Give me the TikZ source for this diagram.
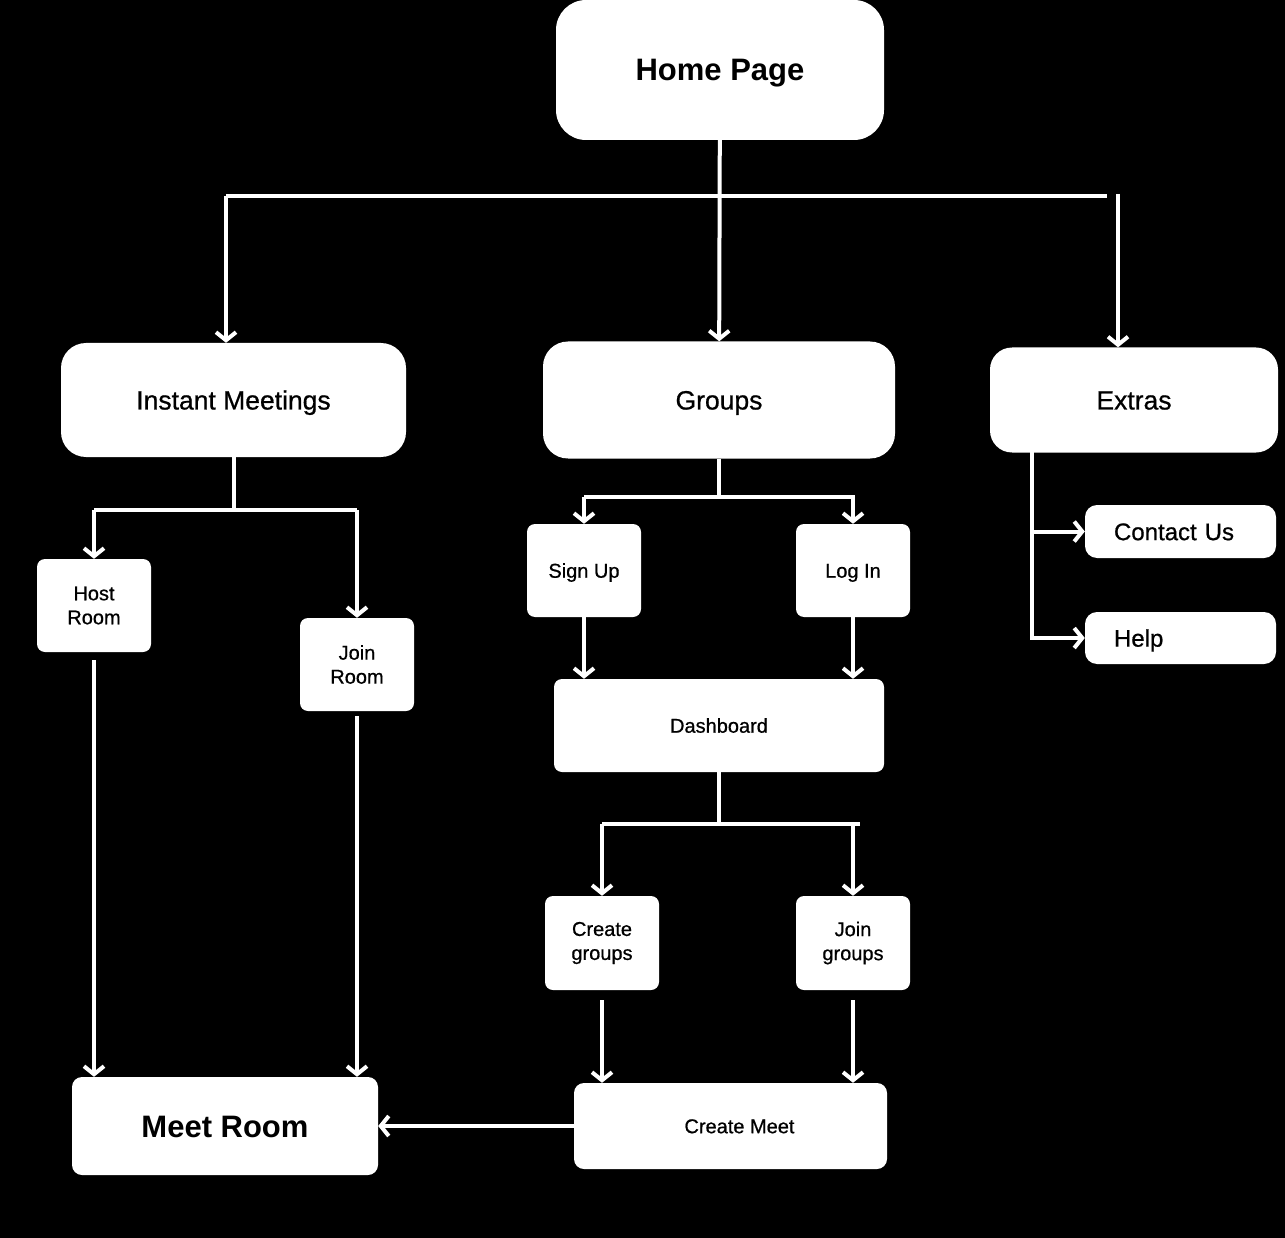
\documentclass[tikz,border=0pt]{standalone}
\usepackage{fontspec}
\setmainfont{Liberation Sans}
\usetikzlibrary{calc, positioning}
\usetikzlibrary{arrows.meta}

\tikzset{
  box/.style={fill=white, text=black, rounded corners=#1, inner sep=0pt, align=center},
  box/.default=8pt,
  oneline/.style={text height=#1, text depth=0pt},
  link/.style={draw=white, line width=4pt},
  arr/.style={link, -{Straight Barb[length=8pt,width=20pt]}},
  big/.style={font=\fontsize{31}{36}\selectfont\bfseries},
  mid/.style={font=\fontsize{26.5}{31}\selectfont\addfontfeature{FakeBold=0.7}},
  side/.style={font=\fontsize{24}{28}\selectfont\addfontfeature{FakeBold=0.7}},
  small/.style={font=\fontsize{20}{24}\selectfont\addfontfeature{FakeBold=0.7}},
}

\begin{document}
\begin{tikzpicture}[x=1pt, y=-1pt]
\fill[black] (0,0) rectangle (1285,1238);
\useasboundingbox (0,0) rectangle (1285,1238);

% top level
\node[box=30pt, big, oneline=22pt, minimum width=328pt, minimum height=140pt] (home) at (720,70) {Home Page};
\node[box=25pt, mid, oneline=19pt, minimum width=345pt, minimum height=114pt] (im) at (233.5,400) {Instant Meetings};
\node[box=25pt, mid, oneline=19pt, minimum width=352pt, minimum height=117pt] (groups) at (719,400) {Groups};
\node[box=22pt, mid, oneline=19pt, minimum width=288pt, minimum height=105pt] (extras) at (1134,400) {Extras};

% instant meetings branch
\node[box, small, minimum width=114pt, minimum height=93pt] (host) at (94,605.5) {Host\\Room};
\node[box, small, minimum width=114pt, minimum height=93pt] (joinr) at (357,664.5) {Join\\Room};
\node[box=10pt, big, oneline=22pt, minimum width=306pt, minimum height=98pt] (meet) at (225,1126) {Meet Room};

% groups branch
\node[box, small, oneline=14.4pt, minimum width=114pt, minimum height=93pt] (signup) at (584,570.5) {Sign Up};
\node[box, small, oneline=14.4pt, minimum width=114pt, minimum height=93pt] (login) at (853,570.5) {Log In};
\node[box, small, oneline=14.4pt, minimum width=330pt, minimum height=93pt] (dash) at (719,725.5) {Dashboard};
\node[box, small, minimum width=114pt, minimum height=94pt] (cgroups) at (602,943) {Create\\groups};
\node[box, small, minimum width=114pt, minimum height=94pt] (jgroups) at (853,943) {Join\\groups};
\node[box=10pt, small, oneline=14.4pt, minimum width=313pt, minimum height=86pt] (cmeet) at (730.5,1126) {\hspace{18pt}Create Meet};

% extras branch
\node[box=12pt, side, oneline=17.3pt, text width=133pt, inner xsep=29pt, align=left, minimum height=53pt] (contact) at (1180.5,531.5) {Contact Us};
\node[box=12pt, side, oneline=17.3pt, text width=133pt, inner xsep=29pt, align=left, minimum height=52pt] (help) at (1180.5,638) {Help};

\coordinate (barL) at (226,196);
\coordinate (barR) at (1107,196);
\coordinate (extin) at (1118,194);
\coordinate (imL) at (94,510);
\coordinate (imR) at (357,510);
\coordinate (grL) at (584,497);
\coordinate (grR) at (855,497);
\coordinate (dsL) at (602,824);
\coordinate (dsR) at (860,824);
\coordinate (exT) at (1032,452);
\coordinate (exB) at (1032,638);

% home page
\draw[arr] (home) -- (groups);
\draw[link] (barL) -- (barR);
\draw[arr] (barL) -- (barL |- im.north);
\draw[arr] (extin) -- (extin |- extras.north);

% instant meetings
\draw[link] (im.south) -- (im.south |- imL);
\draw[link] (imL) -- (imR);
\draw[arr] (imL) -- (host);
\draw[arr] (imR) -- (joinr);
\draw[arr] ([yshift=-8pt]host.south) -- (host.south |- meet.north);
\draw[arr] ([yshift=-5pt]joinr.south) -- (joinr.south |- meet.north);

% groups
\draw[link] (groups.south) -- (groups.south |- grL);
\draw[link] (grL) -- (grR);
\draw[arr] (grL) -- (signup);
\draw[arr] (login.north |- grR) -- (login);
\draw[arr] (signup) -- (signup |- dash.north);
\draw[arr] (login) -- (login |- dash.north);
\draw[link] (dash.south) -- (dash.south |- dsL);
\draw[link] (dsL) -- (dsR);
\draw[arr] (dsL) -- (cgroups);
\draw[arr] (jgroups.north |- dsR) -- (jgroups);
\draw[arr] ([yshift=-10pt]cgroups.south) -- (cgroups.south |- cmeet.north);
\draw[arr] ([yshift=-10pt]jgroups.south) -- (jgroups.south |- cmeet.north);
\draw[arr] (cmeet) -- (meet);

% extras
\draw[link] (exT) -- (exB);
\draw[arr] ([xshift=-2pt]exT |- contact) -- (contact);
\draw[arr] ([xshift=-2pt]exB) -- (help);
\end{tikzpicture}
\end{document}
